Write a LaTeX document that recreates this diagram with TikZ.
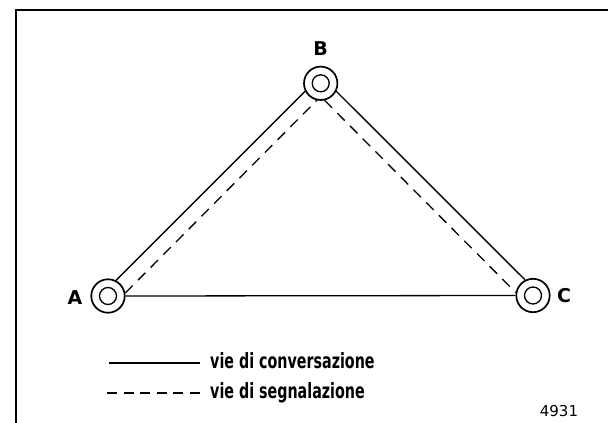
\documentclass[tikz,border=0pt]{standalone}
\usepackage{fontspec}
\newfontfamily\labfont[FakeStretch=0.68]{DejaVu Sans}
\newfontfamily\capfont{DejaVu Sans}
\begin{document}
\begin{tikzpicture}[x=1pt,y=-1pt,
  stn/.style={circle,draw,line width=1.7pt,minimum size=33.4pt,inner sep=0pt},
  stnin/.style={circle,draw,line width=1.3pt,minimum size=17pt,inner sep=0pt},
  conv/.style={line width=1.3pt},
  segn/.style={line width=1.3pt,dash pattern=on 10.5pt off 7.5pt},
  lbl/.style={font=\capfont\bfseries\fontsize{19}{19}\selectfont,inner sep=0pt},
  leg/.style={font=\labfont\bfseries\fontsize{21}{21}\selectfont,inner sep=0pt,anchor=base west}]
\useasboundingbox (0,0) rectangle (608,423);
\draw[line width=2pt] (16,423) -- (16,10) -- (608,10);
% stations
\node[stn] (A) at (108,296) {};
\node[stnin] (Ai) at (A) {};
\node[stn] (B) at (320.7,83.3) {};
\node[stnin] (Bi) at (B) {};
\node[stn] (C) at (533,295.5) {};
\node[stnin] (Ci) at (C) {};
% labels
\node[lbl] (la) at (75,298) {A};
\node[lbl] (lb) at (320.7,49) {B};
\node[lbl] (lc) at (564,296) {C};
% conversation lines
\draw[conv] (A.63) -- (B.207);
\draw[conv] (B.-27) -- (C.117);
\draw[conv] (A.east) -- (C.west);
% signalling lines
\draw[segn] (A.10) -- (B.257);
\draw[segn] (B.-77) -- (C.170);
% legend
\coordinate (s1) at (109,363);
\coordinate (s2) at (200,363);
\coordinate (d1) at (107,393);
\coordinate (d2) at (200,393);
\draw[conv] (s1) -- (s2);
\draw[line width=1.3pt,dash pattern=on 10pt off 6.6pt] (d1) -- (d2);
\node[leg] (t1) at (210,368.5) {vie di conversazione};
\node[leg] (t2) at (210,398.5) {vie di segnalazione};
\node[font=\capfont\fontsize{15}{15}\selectfont,inner sep=0pt] (num) at (559,411) {4931};
\end{tikzpicture}
\end{document}
